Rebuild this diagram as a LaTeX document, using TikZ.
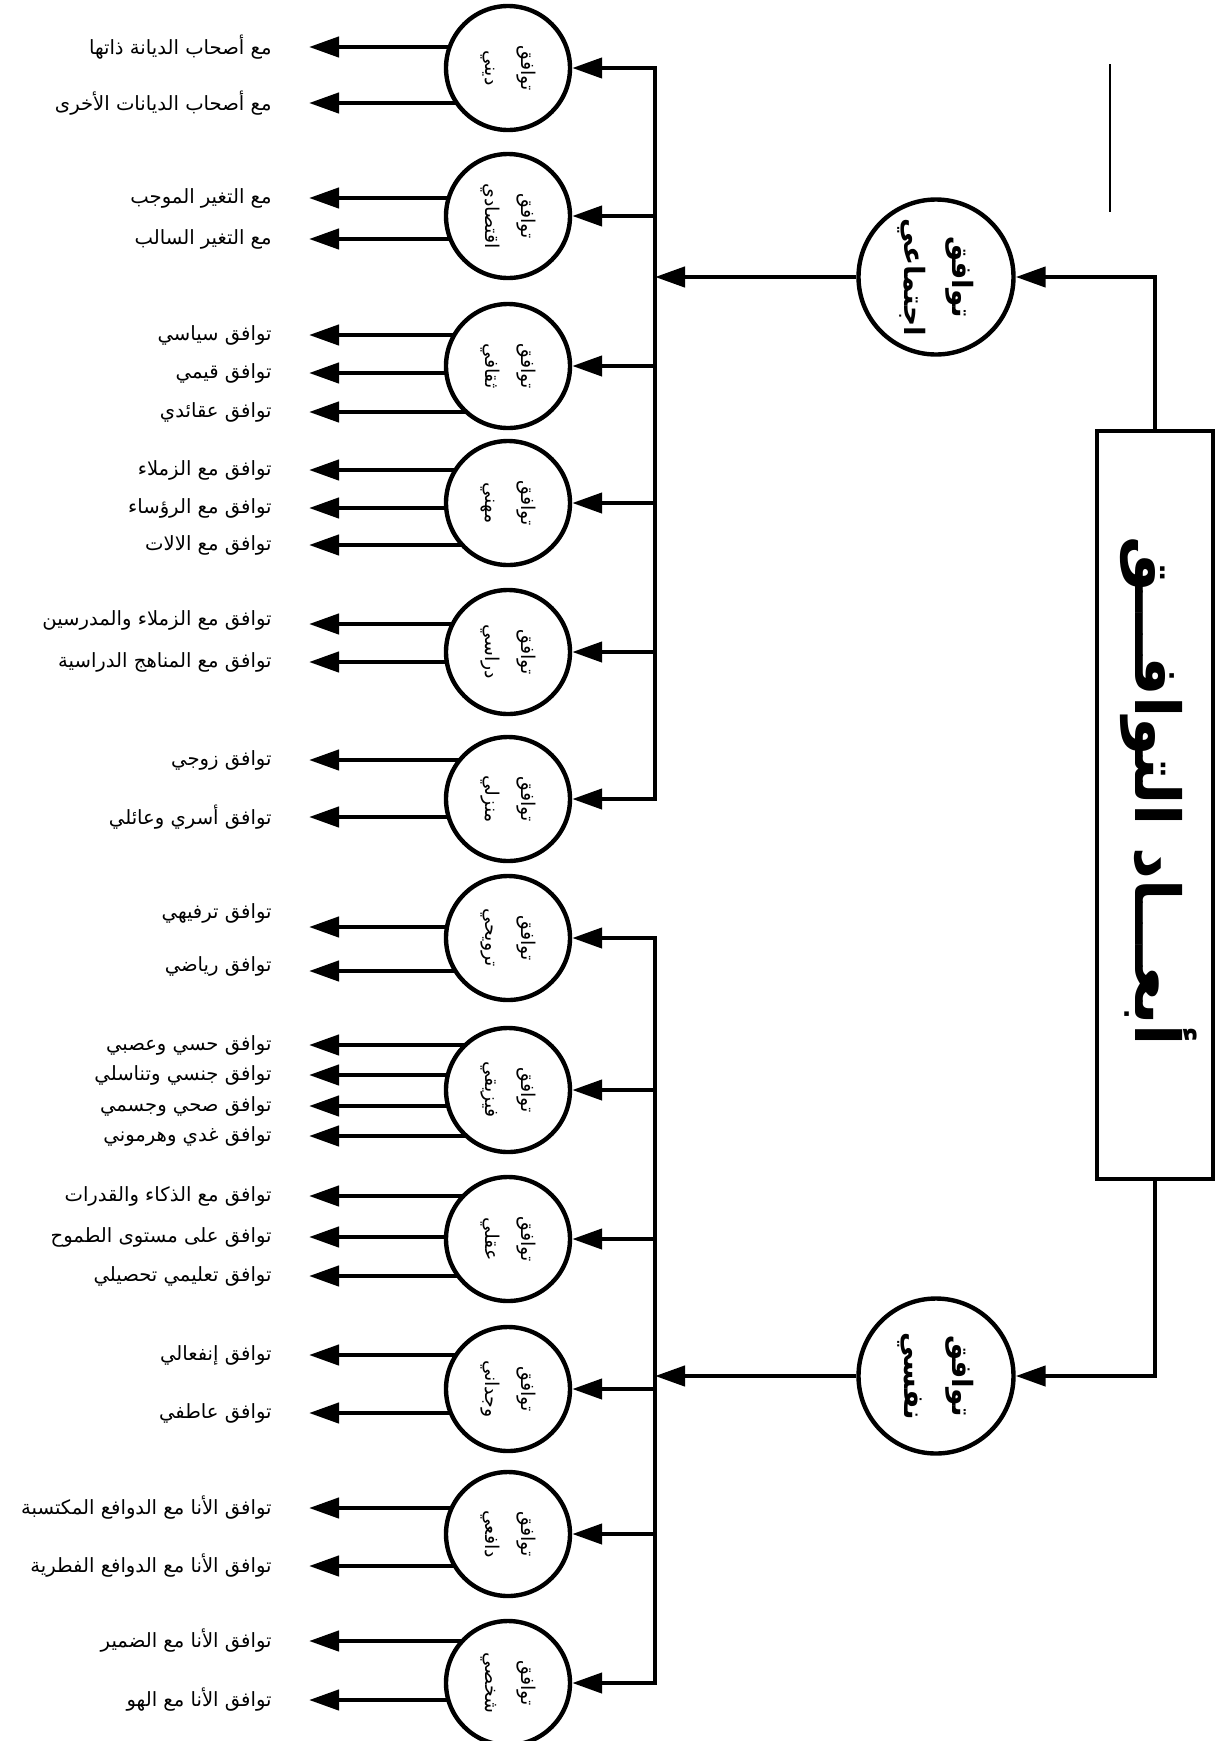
\documentclass[tikz,border=0pt]{standalone}
\usepackage{fontspec}
\newfontfamily\ar[Script=Arabic]{DejaVu Sans}
\TeXXeTstate=1
\usetikzlibrary{arrows.meta,calc,backgrounds}
\newcommand\AR[1]{\beginR #1\endR}
\newcommand\outarr[3]{\draw[arr] ($(#1.center |- #2.east)+(0pt,#3)$) -- ($(#2.east)+(18.5pt,#3)$);}
\begin{document}
\begin{tikzpicture}[x=0.5pt,y=-0.5pt,
 ln/.style={line width=2.2pt,line cap=rect},
 arr/.style={line width=2.2pt,-{Triangle[length=15pt,width=10pt]}},
 sub/.style={circle,draw,line width=2.2pt,fill=white,minimum size=62pt,inner sep=0pt,rotate=-90,align=center,font=\ar\fontsize{9.5}{18}\selectfont},
 main/.style={circle,draw,line width=2.2pt,fill=white,minimum size=77.5pt,inner sep=0pt,rotate=-90,align=center,font=\ar\bfseries\fontsize{14}{24}\selectfont},
 lbl/.style={anchor=east,inner sep=0pt,font=\ar\fontsize{9.8}{12}\selectfont},
 box/.style={draw,line width=2.2pt,minimum width=58pt,minimum height=374pt,inner sep=0pt},
 boxtxt/.style={rotate=-90,inner sep=0pt,font=\ar\bfseries\fontsize{31}{36}\selectfont}]
\useasboundingbox (0,0) rectangle (1218,1741);

% box and main circles
\node[box] (bx) at (1155,805) {};
\node[boxtxt] (bt) at ([xshift=2pt,yshift=7pt]bx.center) {\AR{أبعـــاد التوافـــق}};
\node[main] (m1) at (936,277) {\AR{توافق}\\\AR{اجتماعي}};
\node[main] (m2) at (936,1376) {\AR{توافق}\\\AR{نفسي}};

% stray line
\coordinate (s1) at (1110,64);
\coordinate (s2) at (1110,212);
\draw[line width=1pt] (s1) -- (s2);

% sub circles
\node[sub] (c1) at (508,68) {\AR{توافق}\\\AR{ديني}};
\node[sub] (c2) at (508,216) {\AR{توافق}\\\AR{اقتصادي}};
\node[sub] (c3) at (508,366) {\AR{توافق}\\\AR{ثقافي}};
\node[sub] (c4) at (508,503) {\AR{توافق}\\\AR{مهني}};
\node[sub] (c5) at (508,652) {\AR{توافق}\\\AR{دراسي}};
\node[sub] (c6) at (508,799) {\AR{توافق}\\\AR{منزلي}};
\node[sub] (c7) at (508,938) {\AR{توافق}\\\AR{ترويحي}};
\node[sub] (c8) at (508,1090) {\AR{توافق}\\\AR{فيزيقي}};
\node[sub] (c9) at (508,1239) {\AR{توافق}\\\AR{عقلي}};
\node[sub] (c10) at (508,1389) {\AR{توافق}\\\AR{وجداني}};
\node[sub] (c11) at (508,1534) {\AR{توافق}\\\AR{دافعي}};
\node[sub] (c12) at (508,1683) {\AR{توافق}\\\AR{شخصي}};

% labels
\node[lbl] (l1) at (272,47) {\AR{مع أصحاب الديانة ذاتها}};
\node[lbl] (l2) at (272,103) {\AR{مع أصحاب الديانات الأخرى}};
\node[lbl] (l3) at (272,198) {\AR{مع التغير الموجب}};
\node[lbl] (l4) at (272,239) {\AR{مع التغير السالب}};
\node[lbl] (l5) at (272,335) {\AR{توافق سياسي}};
\node[lbl] (l6) at (272,373) {\AR{توافق قيمي}};
\node[lbl] (l7) at (272,412) {\AR{توافق عقائدي}};
\node[lbl] (l8) at (272,470) {\AR{توافق مع الزملاء}};
\node[lbl] (l9) at (272,508) {\AR{توافق مع الرؤساء}};
\node[lbl] (l10) at (272,545) {\AR{توافق مع الالات}};
\node[lbl] (l11) at (272,620) {\AR{توافق مع الزملاء والمدرسين}};
\node[lbl] (l12) at (272,662) {\AR{توافق مع المناهج الدراسية}};
\node[lbl] (l13) at (272,760) {\AR{توافق زوجي}};
\node[lbl] (l14) at (272,817) {\AR{توافق أسري وعائلي}};
\node[lbl] (l15) at (272,913) {\AR{توافق ترفيهي}};
\node[lbl] (l16) at (272,966) {\AR{توافق رياضي}};
\node[lbl] (l17) at (272,1045) {\AR{توافق حسي وعصبي}};
\node[lbl] (l18) at (272,1075) {\AR{توافق جنسي وتناسلي}};
\node[lbl] (l19) at (272,1106) {\AR{توافق صحي وجسمي}};
\node[lbl] (l20) at (272,1136) {\AR{توافق غدي وهرموني}};
\node[lbl] (l21) at (272,1196) {\AR{توافق مع الذكاء والقدرات}};
\node[lbl] (l22) at (272,1237) {\AR{توافق على مستوى الطموح}};
\node[lbl] (l23) at (272,1276) {\AR{توافق تعليمي تحصيلي}};
\node[lbl] (l24) at (272,1355) {\AR{توافق إنفعالي}};
\node[lbl] (l25) at (272,1413) {\AR{توافق عاطفي}};
\node[lbl] (l26) at (272,1508) {\AR{توافق الأنا مع الدوافع المكتسبة}};
\node[lbl] (l27) at (272,1566) {\AR{توافق الأنا مع الدوافع الفطرية}};
\node[lbl] (l28) at (272,1641) {\AR{توافق الأنا مع الضمير}};
\node[lbl] (l29) at (272,1700) {\AR{توافق الأنا مع الهو}};

% trunk lines
\coordinate (vu) at (655,0);
\draw[ln] (vu |- c1) -- (vu |- c6);
\draw[ln] (vu |- c7) -- (vu |- c12);
\foreach \c in {c1,c2,c3,c4,c5,c6,c7,c8,c9,c10,c11,c12}
  \draw[arr] (vu |- \c) -- (\c);
\draw[arr] (m1) -- (vu |- m1);
\draw[arr] (m2) -- (vu |- m2);
\draw[arr] (bx.north) |- (m1);
\draw[arr] (bx.south) |- (m2);

% outgoing arrows (behind circles)
\begin{scope}[on background layer]
\outarr{c1}{l1}{0pt}
\outarr{c1}{l2}{0pt}
\outarr{c2}{l3}{0pt}
\outarr{c2}{l4}{0pt}
\outarr{c3}{l5}{0pt}
\outarr{c3}{l6}{0pt}
\outarr{c3}{l7}{0pt}
\outarr{c4}{l8}{0pt}
\outarr{c4}{l9}{0pt}
\outarr{c4}{l10}{0pt}
\outarr{c5}{l11}{-2pt}
\outarr{c5}{l12}{0pt}
\outarr{c6}{l13}{0pt}
\outarr{c6}{l14}{0pt}
\outarr{c7}{l15}{-7pt}
\outarr{c7}{l16}{-2.5pt}
\outarr{c8}{l17}{0pt}
\outarr{c8}{l18}{0pt}
\outarr{c8}{l19}{0pt}
\outarr{c8}{l20}{0pt}
\outarr{c9}{l21}{0pt}
\outarr{c9}{l22}{0pt}
\outarr{c9}{l23}{0pt}
\outarr{c10}{l24}{0pt}
\outarr{c10}{l25}{0pt}
\outarr{c11}{l26}{0pt}
\outarr{c11}{l27}{0pt}
\outarr{c12}{l28}{0pt}
\outarr{c12}{l29}{0pt}
\end{scope}
\end{tikzpicture}
\end{document}
